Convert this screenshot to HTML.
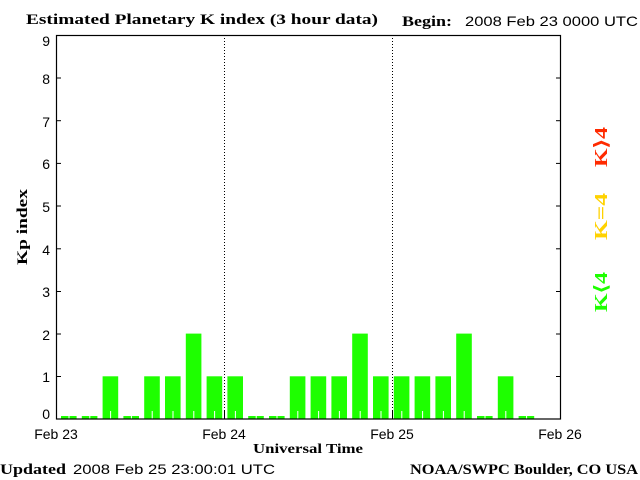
<!DOCTYPE html>
<html><head><style>body{margin:0;background:#fff}svg{display:block}</style></head><body>
<svg width="640" height="480" xmlns="http://www.w3.org/2000/svg">
<rect width="640" height="480" fill="#fff"/>
<g fill="#1eff00">
<rect x="61.0" y="416" width="15.6" height="3"/>
<rect x="81.8" y="416" width="15.6" height="3"/>
<rect x="102.6" y="376.3" width="15.6" height="42.7"/>
<rect x="123.4" y="416" width="15.6" height="3"/>
<rect x="144.2" y="376.3" width="15.6" height="42.7"/>
<rect x="165.0" y="376.3" width="15.6" height="42.7"/>
<rect x="185.8" y="333.6" width="15.6" height="85.4"/>
<rect x="206.6" y="376.3" width="15.6" height="42.7"/>
<rect x="227.4" y="376.3" width="15.6" height="42.7"/>
<rect x="248.2" y="416" width="15.6" height="3"/>
<rect x="269.0" y="416" width="15.6" height="3"/>
<rect x="289.8" y="376.3" width="15.6" height="42.7"/>
<rect x="310.6" y="376.3" width="15.6" height="42.7"/>
<rect x="331.4" y="376.3" width="15.6" height="42.7"/>
<rect x="352.2" y="333.6" width="15.6" height="85.4"/>
<rect x="373.0" y="376.3" width="15.6" height="42.7"/>
<rect x="393.8" y="376.3" width="15.6" height="42.7"/>
<rect x="414.6" y="376.3" width="15.6" height="42.7"/>
<rect x="435.4" y="376.3" width="15.6" height="42.7"/>
<rect x="456.2" y="333.6" width="15.6" height="85.4"/>
<rect x="477.0" y="416" width="15.6" height="3"/>
<rect x="497.8" y="376.3" width="15.6" height="42.7"/>
<rect x="518.6" y="416" width="15.6" height="3"/>
</g>
<g fill="#fff">
<rect x="68.5" y="415" width="1" height="4"/><rect x="89.3" y="415" width="1" height="4"/>
<rect x="110.1" y="411" width="1" height="8"/><rect x="130.9" y="415" width="1" height="4"/>
<rect x="151.7" y="411" width="1" height="8"/><rect x="172.5" y="411" width="1" height="8"/>
<rect x="193.3" y="411" width="1" height="8"/><rect x="214.1" y="411" width="1" height="8"/>
<rect x="234.9" y="411" width="1" height="8"/><rect x="255.7" y="415" width="1" height="4"/>
<rect x="276.5" y="415" width="1" height="4"/><rect x="297.3" y="411" width="1" height="8"/>
<rect x="318.1" y="411" width="1" height="8"/><rect x="338.9" y="411" width="1" height="8"/>
<rect x="359.7" y="411" width="1" height="8"/><rect x="380.5" y="411" width="1" height="8"/>
<rect x="401.3" y="411" width="1" height="8"/><rect x="422.1" y="411" width="1" height="8"/>
<rect x="442.9" y="411" width="1" height="8"/><rect x="463.7" y="411" width="1" height="8"/>
<rect x="484.5" y="415" width="1" height="4"/><rect x="505.3" y="411" width="1" height="8"/>
<rect x="526.1" y="415" width="1" height="4"/>
</g>
<g stroke="#000" fill="none">
<line x1="224.5" y1="35" x2="224.5" y2="419" stroke-dasharray="1,2"/>
<line x1="392.5" y1="35" x2="392.5" y2="419" stroke-dasharray="1,2"/>
<line x1="224.5" y1="410" x2="224.5" y2="419"/>
<line x1="392.5" y1="410" x2="392.5" y2="419"/>
<rect x="56.5" y="35.5" width="504" height="383.5" stroke-width="1.2"/>
</g>
<g stroke="#000">
<line x1="56" y1="78" x2="61" y2="78"/><line x1="56" y1="120.7" x2="61" y2="120.7"/>
<line x1="56" y1="163.4" x2="61" y2="163.4"/><line x1="56" y1="206" x2="61" y2="206"/>
<line x1="56" y1="248.8" x2="61" y2="248.8"/><line x1="56" y1="291.5" x2="61" y2="291.5"/>
<line x1="56" y1="334" x2="61" y2="334"/><line x1="56" y1="376.5" x2="61" y2="376.5"/>
<line x1="556" y1="78" x2="561" y2="78"/><line x1="556" y1="120.7" x2="561" y2="120.7"/>
<line x1="556" y1="163.4" x2="561" y2="163.4"/><line x1="556" y1="206" x2="561" y2="206"/>
<line x1="556" y1="248.8" x2="561" y2="248.8"/><line x1="556" y1="291.5" x2="561" y2="291.5"/>
<line x1="556" y1="334" x2="561" y2="334"/><line x1="556" y1="376.5" x2="561" y2="376.5"/>
</g>
<g font-family="Liberation Sans, sans-serif" font-size="14" fill="#000" text-anchor="end">
<text x="50" y="46">9</text><text x="50" y="84">8</text><text x="50" y="127">7</text>
<text x="50" y="169">6</text><text x="50" y="212">5</text><text x="50" y="255">4</text>
<text x="50" y="297">3</text><text x="50" y="340">2</text><text x="50" y="382">1</text>
<text x="50" y="419">0</text>
</g>
<g font-family="Liberation Sans, sans-serif" font-size="14" fill="#000" text-anchor="middle">
<text x="56" y="439">Feb 23</text><text x="224" y="439">Feb 24</text>
<text x="392" y="439">Feb 25</text><text x="560" y="439">Feb 26</text>
</g>
<g font-family="Liberation Serif, serif" font-weight="bold" font-size="15" fill="#000">
<text x="26" y="24" textLength="352" lengthAdjust="spacingAndGlyphs">Estimated Planetary K index (3 hour data)</text>
<text x="402" y="26" textLength="50" lengthAdjust="spacingAndGlyphs">Begin:</text>
<text x="253" y="453" font-size="14" textLength="110" lengthAdjust="spacingAndGlyphs">Universal Time</text>
<text x="0" y="474" textLength="66" lengthAdjust="spacingAndGlyphs">Updated</text>
<text x="410" y="474" textLength="228" lengthAdjust="spacingAndGlyphs">NOAA/SWPC Boulder, CO USA</text>
<text transform="translate(27,265) rotate(-90)" textLength="76" lengthAdjust="spacingAndGlyphs">Kp index</text>
<text transform="translate(607,167) rotate(-90)" fill="#ff2a00" font-size="18" textLength="40" lengthAdjust="spacingAndGlyphs">K⟩4</text>
<text transform="translate(607,240) rotate(-90)" fill="#ffd200" font-size="18" textLength="47" lengthAdjust="spacingAndGlyphs">K=4</text>
<text transform="translate(607,312) rotate(-90)" fill="#1eff00" font-size="18" textLength="40" lengthAdjust="spacingAndGlyphs">K⟨4</text>
</g>
<g font-family="Liberation Sans, sans-serif" font-size="14" fill="#000">
<text x="465" y="26" textLength="173" lengthAdjust="spacingAndGlyphs">2008 Feb 23 0000 UTC</text>
<text x="73" y="474" textLength="202" lengthAdjust="spacingAndGlyphs">2008 Feb 25 23:00:01 UTC</text>
</g>
</svg>
</body></html>
